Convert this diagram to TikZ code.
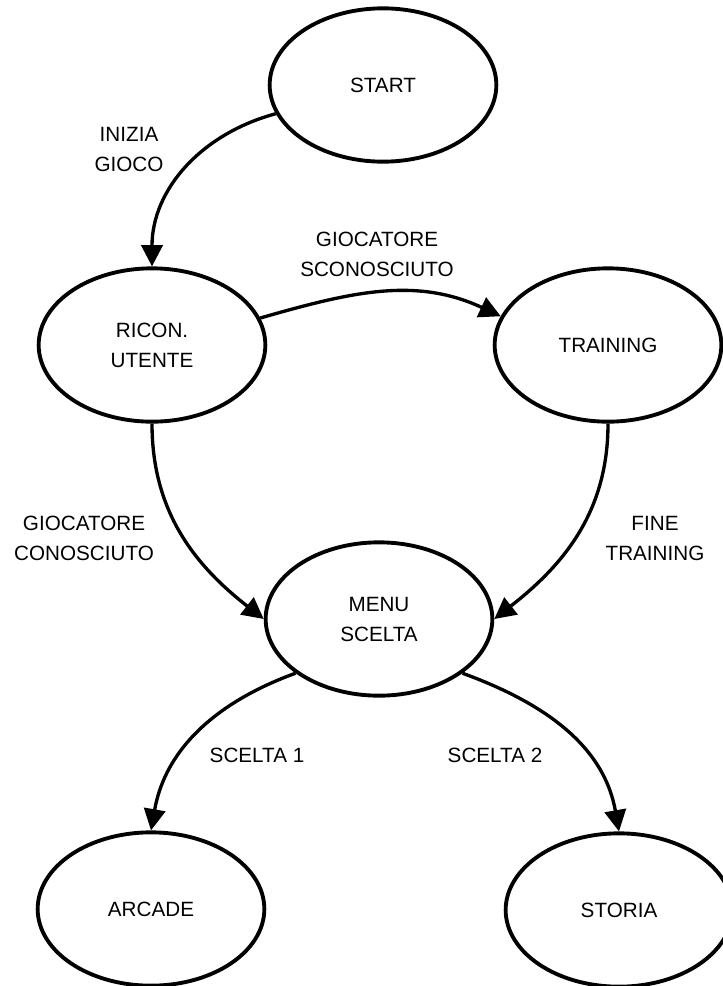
\documentclass[tikz,border=0pt]{standalone}
\usepackage{fontspec}
\setmainfont{Liberation Sans}
\usetikzlibrary{arrows.meta,shapes.geometric,calc}

\begin{document}
\begin{tikzpicture}[x=0.75pt,y=0.75pt,
  every node/.style={font=\fontsize{15.5pt}{22.5pt}\selectfont},
  stato/.style={ellipse, draw, line width=2.9pt, minimum width=170pt,
    minimum height=115pt, inner sep=0pt, align=center},
  trans/.style={line width=2.5pt, -{Triangle[length=16pt,width=16pt]}},
  etichetta/.style={align=center}]
  \useasboundingbox (0,0) rectangle (723,-986);
  % Define states
  \node[stato] (start) at (383,-85) {START};
  \node[stato] (ricon) at (152,-345) {RICON.\\UTENTE};
  \node[stato] (training) at (608,-345) {TRAINING};
  \node[stato] (menu) at (379,-619) {MENU\\SCELTA};
  \node[stato] (arcade) at (151,-909) {ARCADE};
  \node[stato] (storia) at (619,-910) {STORIA};
  % Draw transitions
  \draw[trans] (start.195) to[out=195,in=90] (ricon.north);
  \draw[trans] (ricon.14) to[out=16,in=155] (training.165);
  \draw[trans] (ricon.south) to[out=-90,in=142] (menu.west);
  \draw[trans] (training.south) to[out=-90,in=38] (menu.east);
  \draw[trans] (menu.213) to[out=200,in=80] (arcade.north);
  \draw[trans] (menu.327) to[out=-20,in=100] (storia.north);
  % Labels
  \node[etichetta] (inizia) at (129,-149) {INIZIA\\GIOCO};
  \node[etichetta] (sconosciuto) at (377,-254) {GIOCATORE\\SCONOSCIUTO};
  \node[etichetta] (conosciuto) at (84,-538) {GIOCATORE\\CONOSCIUTO};
  \node[etichetta] (fine) at (655,-538) {FINE\\TRAINING};
  \node[etichetta] (scelta1) at (257,-755) {SCELTA 1};
  \node[etichetta] (scelta2) at (495,-755) {SCELTA 2};
\end{tikzpicture}
\end{document}
